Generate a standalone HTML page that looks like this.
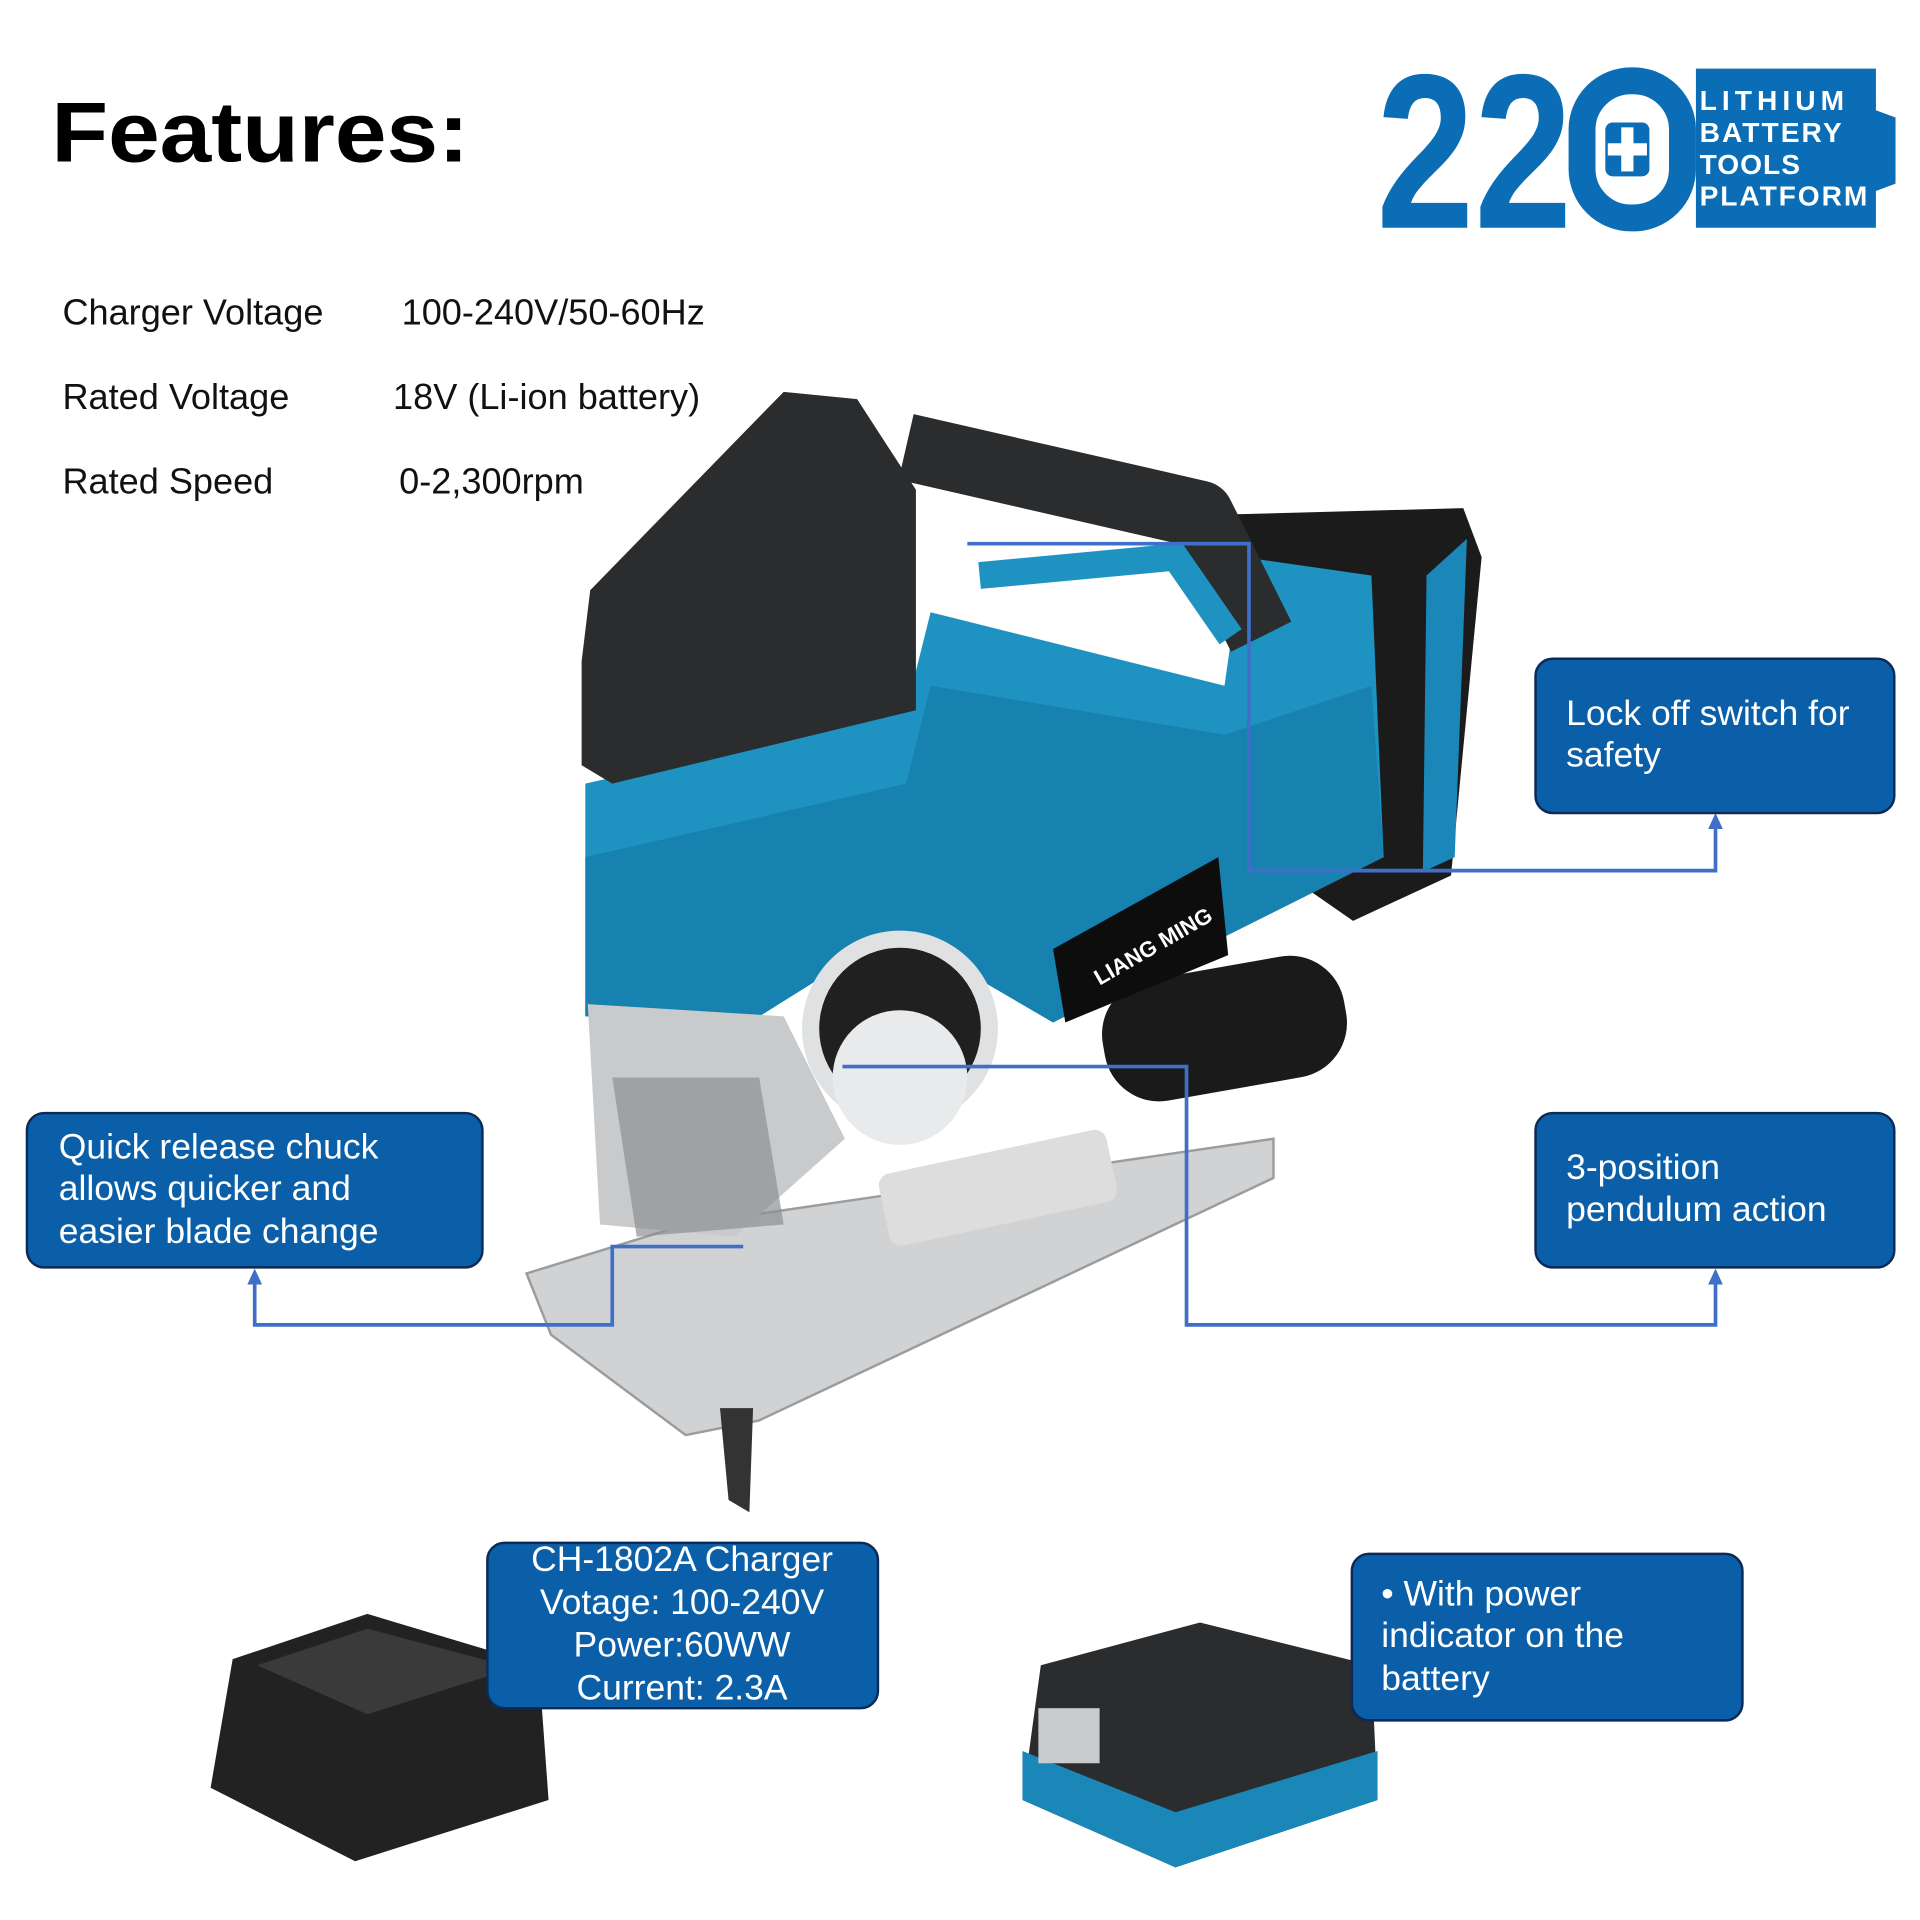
<!DOCTYPE html>
<html><head><meta charset="utf-8"><style>
html,body{margin:0;padding:0;background:#fff;width:1920px;height:1920px;overflow:hidden}
svg{display:block}
text{font-family:"Liberation Sans","DejaVu Sans",sans-serif}
</style></head><body>
<svg width="1920" height="1920" viewBox="0 0 1568 1568" xmlns="http://www.w3.org/2000/svg">
<rect width="1568" height="1568" fill="#fff"/>
<text x="42" y="132" font-size="70" font-weight="bold" fill="#000" textLength="341" lengthAdjust="spacingAndGlyphs">Features:</text>

<!-- logo -->
<text x="1124" y="186" font-size="180" font-weight="bold" fill="#0a6db5" textLength="160" lengthAdjust="spacingAndGlyphs">22</text>
<rect x="1292" y="66" width="82" height="112" rx="40" fill="none" stroke="#0a6db5" stroke-width="22"/>
<rect x="1311" y="100" width="36" height="44" rx="6" fill="#0a6db5"/>
<rect x="1324" y="104" width="10" height="36" fill="#fff"/><rect x="1313" y="117" width="32" height="10" fill="#fff"/>
<path d="M1385 56 H1532 V90 L1548 96 V150 L1532 156 V186 H1385 Z" fill="#0a6db5"/>
<g font-size="23" font-weight="bold" fill="#fff"><text x="1388" y="90" textLength="118">LITHIUM</text><text x="1388" y="116" textLength="116">BATTERY</text><text x="1388" y="142" textLength="82">TOOLS</text><text x="1388" y="168" textLength="137">PLATFORM</text></g>

<g font-size="29.5" fill="#111">
<text x="51" y="265">Charger Voltage</text><text x="328" y="265">100-240V/50-60Hz</text>
<text x="51" y="334">Rated Voltage</text><text x="321" y="334">18V (Li-ion battery)</text>
<text x="51" y="403">Rated Speed</text><text x="326" y="403">0-2,300rpm</text>
</g>

<!-- jigsaw -->
<polygon points="430,1040 560,1000 1040,930 1040,962 620,1160 560,1172 450,1090" fill="#d0d2d4" stroke="#9a9c9e" stroke-width="2"/>
<polygon points="588,1150 615,1150 612,1235 595,1225" fill="#333"/>
<rect x="900" y="790" width="200" height="100" rx="45" fill="#1a1a1a" transform="rotate(-10 1000 840)"/>
<polygon points="1010,420 1195,415 1210,455 1185,715 1105,752 1030,700" fill="#1b1b1b"/>
<polygon points="1165,470 1198,440 1188,700 1162,712" fill="#1b87b8"/>
<polygon points="478,640 740,580 760,500 1000,560 1015,455 1120,470 1130,700 860,835 800,800 700,780 620,830 478,830" fill="#1e93c2"/>
<polygon points="478,700 740,640 760,560 1000,600 1120,560 1130,700 860,835 800,800 700,780 620,830 478,830" fill="#1781b0"/>
<polygon points="475,540 482,482 640,320 700,326 748,400 748,580 500,640 475,625" fill="#2b2c2e"/>
<path d="M740 365 L980 420 L1030 520" fill="none" stroke="#2b2c2e" stroke-width="55" stroke-linejoin="round"/>
<path d="M800 470 L960 455 L1005 520" fill="none" stroke="#1e93c2" stroke-width="22"/>
<polygon points="480,820 640,830 690,930 600,1010 490,1000" fill="#c8cacb"/>
<polygon points="500,880 620,880 640,1000 520,1010" fill="#8d9092" opacity=".7"/>
<circle cx="735" cy="840" r="80" fill="#dfe1e2"/>
<circle cx="735" cy="840" r="66" fill="#202020"/>
<circle cx="735" cy="880" r="55" fill="#e8eaeb"/>
<polygon points="860,775 995,700 1003,780 870,835" fill="#0d0d0d"/>
<text x="898" y="805" font-size="18" font-weight="bold" fill="#fff" transform="rotate(-30 898 805)">LIANG MING</text>
<rect x="720" y="940" width="190" height="60" rx="10" fill="#ddd" transform="rotate(-12 815 970)"/>
<!-- charger -->
<polygon points="190,1355 300,1318 440,1360 448,1470 290,1520 172,1460" fill="#222"/>
<polygon points="210,1360 300,1330 420,1362 300,1400" fill="#3a3a3a"/>
<!-- battery -->
<polygon points="850,1360 980,1325 1120,1360 1125,1470 960,1525 835,1470" fill="#2a2c2e"/>
<polygon points="835,1430 960,1480 1125,1430 1125,1470 960,1525 835,1470" fill="#1b87b8"/>
<rect x="848" y="1395" width="50" height="45" fill="#c9cbcc"/>

<!-- connectors -->
<g fill="none" stroke="#3f6fc6" stroke-width="3">
<polyline points="790,444 1020,444 1020,711 1401,711 1401,672"/>
<polyline points="688,871 969,871 969,1082 1401,1082 1401,1044"/>
<polyline points="607,1018 500,1018 500,1082 208,1082 208,1044"/>
</g>
<g fill="#3f6fc6">
<polygon points="1401,664 1395,677 1407,677"/>
<polygon points="1401,1036 1395,1049 1407,1049"/>
<polygon points="208,1036 202,1049 214,1049"/>
</g>

<!-- callouts -->
<g fill="#0a5fa8" stroke="#0b2a55" stroke-width="2">
<rect x="1254" y="538" width="293" height="126" rx="14"/>
<rect x="22" y="909" width="372" height="126" rx="14"/>
<rect x="1254" y="909" width="293" height="126" rx="14"/>
<rect x="398" y="1260" width="319" height="135" rx="14"/>
<rect x="1104" y="1269" width="319" height="136" rx="14"/>
</g>
<g font-size="29" fill="#fff">
<text x="1279" y="592">Lock off switch for</text><text x="1279" y="626">safety</text>
<text x="48" y="946">Quick release chuck</text><text x="48" y="980">allows quicker and</text><text x="48" y="1015">easier blade change</text>
<text x="1279" y="963">3-position</text><text x="1279" y="997">pendulum action</text>
<g text-anchor="middle"><text x="557" y="1283">CH-1802A Charger</text><text x="557" y="1318">Votage: 100-240V</text><text x="557" y="1353">Power:60WW</text><text x="557" y="1388">Current: 2.3A</text></g>
<text x="1128" y="1311">• With power</text><text x="1128" y="1345">indicator on the</text><text x="1128" y="1380">battery</text>
</g>
</svg>
</body></html>
